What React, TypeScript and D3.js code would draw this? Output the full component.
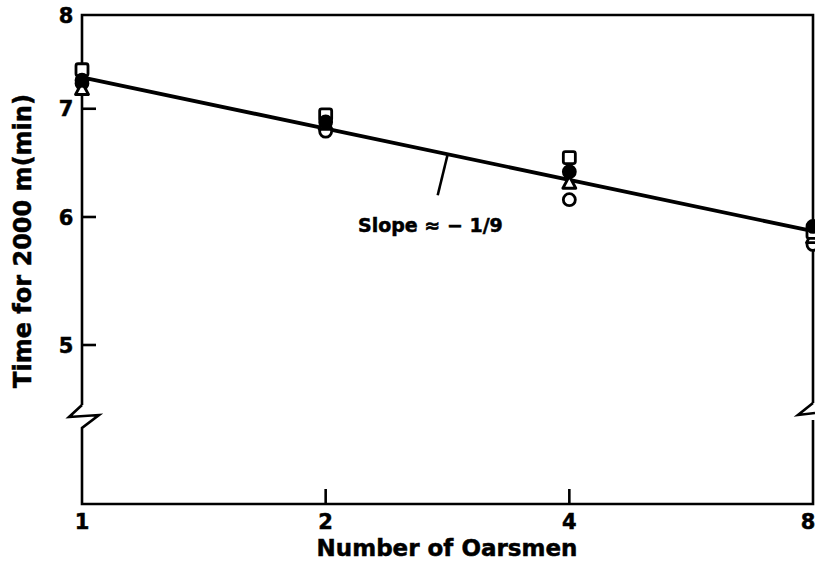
import React from 'react';
import * as d3 from 'd3';

// oarsmen per boat, and the 2000 m times (min)
const crews = [1, 2, 4, 8];
const squareTimes = [7.4, 6.94, 6.53, 5.87];
const filledTimes = [7.29, 6.87, 6.4, 5.92];
const triangleTimes = [7.2, 6.85, 6.3, 5.83];
const circleTimes = [7.26, 6.78, 6.15, 5.77];

// fitted line, slope about -1/9 on log-log axes
const fitLine = [
  { n: 1, t: 7.32 },
  { n: 8, t: 5.88 },
];

const yTicks = [5, 6, 7, 8];
const xTicks = [1, 2, 4, 8];
const slopeLabel = 'Slope \u2248 \u2212 1/9';
const slopeAnchorN = 2.83;

const font = '"DejaVu Sans", sans-serif';

const App = () => {
  const width = 815;
  const height = 563;
  const left = 82;
  const right = 813;
  const top = 15;
  const bottom = 504;

  const xScale = d3.scaleLog().base(2).domain([1, 8]).range([left, right]);
  const yScale = d3.scaleLog().domain([5, 8]).range([345, top]);

  const linePlot = d3
    .line<{ n: number; t: number }>()
    .x(d => xScale(d.n))
    .y(d => yScale(d.t));

  const pts = (times: number[]) => crews.map((n, i) => ({ x: xScale(n), y: yScale(times[i]) }));

  const fitAt = (n: number) => {
    const k = Math.log(fitLine[1].t / fitLine[0].t) / Math.log(fitLine[1].n / fitLine[0].n);
    return fitLine[0].t * Math.pow(n / fitLine[0].n, k);
  };
  const ax = xScale(slopeAnchorN);
  const ay = yScale(fitAt(slopeAnchorN));

  const breakY = 405;
  const sw = 2.6;
  // slightly heavier glyphs, like the printed original
  const textStyle = { fontFamily: font, fontWeight: 'bold' as const, stroke: 'black', strokeWidth: 0.5 };

  return (
    <svg
      width={width}
      height={height}
      viewBox={`0,0,${width},${height}`}
      style={{ position: 'absolute', left: 0, top: 0, background: 'white' }}
    >
      {/* frame with axis breaks */}
      <g stroke='black' strokeWidth={sw} fill='none' strokeLinejoin='miter'>
        <path d={`M${left},${breakY} L${left},${top} L${right},${top} L${right},${breakY - 2}`} />
        <path d={`M${left},${breakY} L${left - 13},${breakY + 12} L${left + 17},${breakY + 10} L${left},${breakY + 23} L${left},${bottom} L${right},${bottom} L${right},${breakY + 15}`} />
        <path d={`M${right},${breakY - 2} L${right - 15},${breakY + 10} L${width},${breakY + 8}`} />
      </g>

      {/* y ticks */}
      {yTicks.filter(v => v < 8).map(v => (
        <line key={v} x1={left} x2={left + 14} y1={yScale(v)} y2={yScale(v)} stroke='black' strokeWidth={sw} />
      ))}
      {yTicks.map(v => (
        <text key={v} x={66} y={yScale(v)} dy='0.36em' textAnchor='middle' fontSize={21} style={textStyle}>{v}</text>
      ))}

      {/* x ticks */}
      {xTicks.filter(v => v > 1 && v < 8).map(v => (
        <line key={v} x1={xScale(v)} x2={xScale(v)} y1={bottom} y2={bottom - 15} stroke='black' strokeWidth={sw} />
      ))}
      {xTicks.map(v => (
        <text key={v} x={Math.min(xScale(v), 808)} y={529} textAnchor='middle' fontSize={21} style={textStyle}>{v}</text>
      ))}

      {/* fitted line */}
      <path d={linePlot(fitLine) || ''} stroke='black' strokeWidth={3.8} fill='none' />

      {/* markers */}
      <g stroke='black' strokeWidth={2.8}>
        {pts(circleTimes).map((p, i) => (
          <circle key={`c${i}`} cx={p.x} cy={p.y} r={6} fill='white' />
        ))}
        {pts(triangleTimes).map((p, i) => (
          <path key={`t${i}`} d={`M${p.x},${p.y - 6.5} L${p.x + 6.5},${p.y + 5.5} L${p.x - 6.5},${p.y + 5.5} Z`} fill='white' strokeLinejoin='round' />
        ))}
        {pts(squareTimes).map((p, i) => (
          <rect key={`s${i}`} x={p.x - 6} y={p.y - 6} width={12} height={12} rx={2} fill='white' />
        ))}
        {pts(filledTimes).map((p, i) => (
          <circle key={`f${i}`} cx={p.x} cy={p.y} r={6} fill='black' />
        ))}
      </g>

      {/* slope annotation */}
      <line x1={ax} y1={ay} x2={ax - 10} y2={ay + 41} stroke='black' strokeWidth={2.6} />
      <text x={358} y={232} fontSize={19} style={textStyle}>{slopeLabel}</text>

      {/* axis titles */}
      <text x={447} y={556} textAnchor='middle' fontSize={23} style={textStyle}>
        Number of Oarsmen
      </text>
      <text transform='translate(31,241) rotate(-90)' textAnchor='middle' fontSize={24} style={textStyle}>
        Time for 2000 m(min)
      </text>
    </svg>
  );
};

export default App;
